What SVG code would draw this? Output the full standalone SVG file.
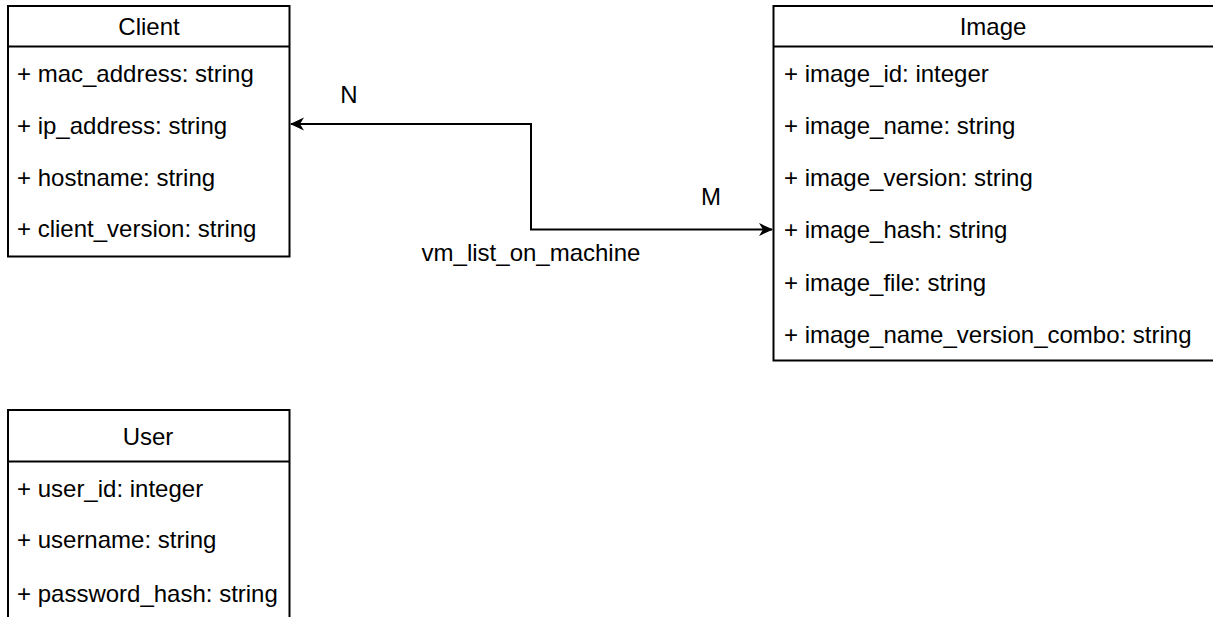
<svg xmlns="http://www.w3.org/2000/svg" width="1213" height="617" viewBox="0 0 1213 617">
<style>
.box{fill:#fff;stroke:#000;stroke-width:2}
.sep{stroke:#000;stroke-width:2}
text{font-family:"Liberation Sans",Arial,Helvetica,sans-serif;font-size:24px;fill:#000}
.t{text-anchor:middle}
.edge{fill:none;stroke:#000;stroke-width:2}
</style>
<defs>
<marker id="arr" viewBox="0 0 14 14" refX="13" refY="7" markerWidth="14" markerHeight="14" markerUnits="userSpaceOnUse" orient="auto-start-reverse">
<path d="M0,0.5 L14,7 L0,13.5 L4,7 Z" fill="#000"/>
</marker>
</defs>
<g id="connectors">
<path class="edge" d="M291 124 H531 V229.5 H772" marker-start="url(#arr)" marker-end="url(#arr)"/>
<text class="t" x="349" y="103">N</text>
<text class="t" x="711" y="205">M</text>
<text class="t" x="531" y="261">vm_list_on_machine</text>
</g>
<g id="client">
<rect class="box" x="8" y="6" width="281.5" height="250.5"/>
<line class="sep" x1="8" y1="46.5" x2="289.5" y2="46.5"/>
<text class="t" x="149" y="35">Client</text>
<text x="17" y="82">+ mac_address: string</text>
<text x="17" y="134">+ ip_address: string</text>
<text x="17" y="186">+ hostname: string</text>
<text x="17" y="237">+ client_version: string</text>
</g>
<g id="image">
<rect class="box" x="773.5" y="6" width="441" height="354.5"/>
<line class="sep" x1="773.5" y1="46.5" x2="1214.5" y2="46.5"/>
<text class="t" x="993" y="35">Image</text>
<text x="784" y="82">+ image_id: integer</text>
<text x="784" y="134">+ image_name: string</text>
<text x="784" y="186">+ image_version: string</text>
<text x="784" y="238">+ image_hash: string</text>
<text x="784" y="290.5">+ image_file: string</text>
<text x="784" y="343">+ image_name_version_combo: string</text>
</g>
<g id="user">
<rect class="box" x="8" y="410" width="281.5" height="230"/>
<line class="sep" x1="8" y1="461.5" x2="289.5" y2="461.5"/>
<text class="t" x="148" y="445">User</text>
<text x="17" y="496.5">+ user_id: integer</text>
<text x="17" y="548">+ username: string</text>
<text x="17" y="601.5">+ password_hash: string</text>
</g>
</svg>
